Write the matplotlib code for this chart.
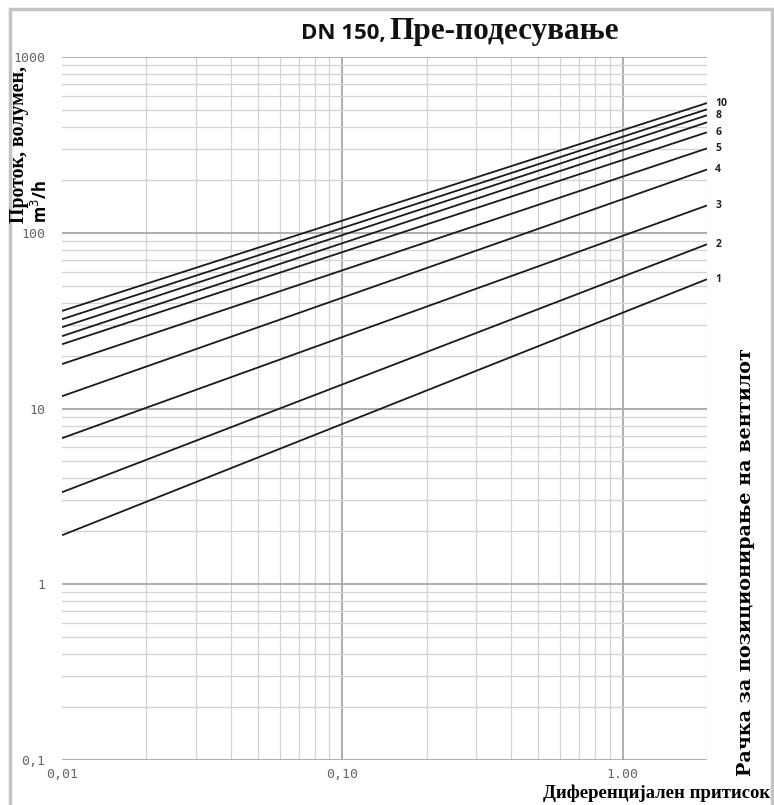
import numpy as np
import matplotlib
matplotlib.use('Agg')
import matplotlib.pyplot as plt
from matplotlib.patches import Rectangle

# valve settings 1..10, flow at both ends of the pressure range
settings = [1, 2, 3, 4, 5, 6, 7, 8, 9, 10]
dp_ends = [0.01, 2.0]
q_start = [1.90, 3.34, 6.78, 11.75, 17.9, 23.2, 25.8, 29.0, 32.2, 35.9]
q_end = [54.4, 86, 143, 229, 302, 373, 425, 466, 504, 547]
labelled = [1, 2, 3, 4, 5, 6, 8, 10]

x_ticks = [0.01, 0.1, 1.0]
x_ticklabels = ['0,01', '0,10', '1.00']
y_ticks = [0.1, 1, 10, 100, 1000]
y_ticklabels = ['0,1', '1', '10', '100', '1000']

W, H = 774, 805
fig = plt.figure(figsize=(W / 100, H / 100), dpi=100)
ax = fig.add_axes([62 / W, 1 - 760 / H, (707 - 62) / W, (760 - 57) / H])
ax.set_xscale('log')
ax.set_yscale('log')
ax.set_xlim(dp_ends[0], dp_ends[1])
ax.set_ylim(0.1, 1000)

for s, a, b in zip(settings, q_start, q_end):
    ax.plot(dp_ends, [a, b], color='#1a1a1a', lw=1.3, solid_capstyle='butt')
    if s in labelled:
        ax.annotate(str(s), (dp_ends[1], b), xytext=(6, 0), textcoords='offset points',
                    fontsize=7.5, fontweight='bold', family='Open Sans',
                    va='center', ha='left', color='#222')

ax.grid(which='minor', color='#d2d2d2', lw=0.9)
ax.grid(which='major', color='#a8a8a8', lw=1.3)
ax.set_axisbelow(True)
for sp in ax.spines.values():
    sp.set_visible(False)

ax.set_xticks(x_ticks)
ax.set_xticklabels(x_ticklabels)
ax.set_yticks(y_ticks)
ax.set_yticklabels(y_ticklabels)
ax.tick_params(which='both', length=0)
ax.tick_params(axis='x', pad=6)
ax.tick_params(axis='y', pad=12)
for lab in ax.get_xticklabels() + ax.get_yticklabels():
    lab.set_family('DejaVu Sans Mono')
    lab.set_fontsize(9.5)
    lab.set_color('#666666')
# no grid line on the left edge
ax.xaxis.get_gridlines()[0].set_visible(False)

# title: sans part + serif part
fig.text(386 / W, 1 - 39 / H, 'DN 150,', family='Open Sans', fontweight='bold',
         fontsize=16, ha='right', va='baseline', color='#111')
fig.text(389 / W, 1 - 39 / H, 'Пре-подесување', family='Liberation Serif',
         fontweight='bold', fontsize=22.5, ha='left', va='baseline', color='#111')

# axis labels
fig.text(19 / W, 1 - 223 / H, 'Проток, волумен,', family='Liberation Serif',
         fontweight='bold', fontsize=14.3, rotation=90, ha='center', va='bottom')
fig.text(41 / W, 1 - 223 / H, 'm$^3$/h', family='Open Sans', fontweight='bold',
         fontsize=12, rotation=90, ha='center', va='bottom')
fig.text(746 / W, 1 - 776 / H, 'Рачка за позиционирање на вентилот',
         family='DejaVu Serif', fontweight='bold', fontsize=13.8,
         rotation=90, ha='center', va='bottom')
fig.text(770 / W, 1 - 793 / H, 'Диференцијален притисок', family='Liberation Serif',
         fontweight='bold', fontsize=13.5, ha='right', va='center')

# outer frame
fig.patches.append(Rectangle((10 / W, -0.01), (772 - 10) / W, 1 - 9 / H + 0.01,
                             transform=fig.transFigure, fill=False,
                             edgecolor='#c4c4c4', lw=2.5))

fig.savefig('out.png', dpi=100)
